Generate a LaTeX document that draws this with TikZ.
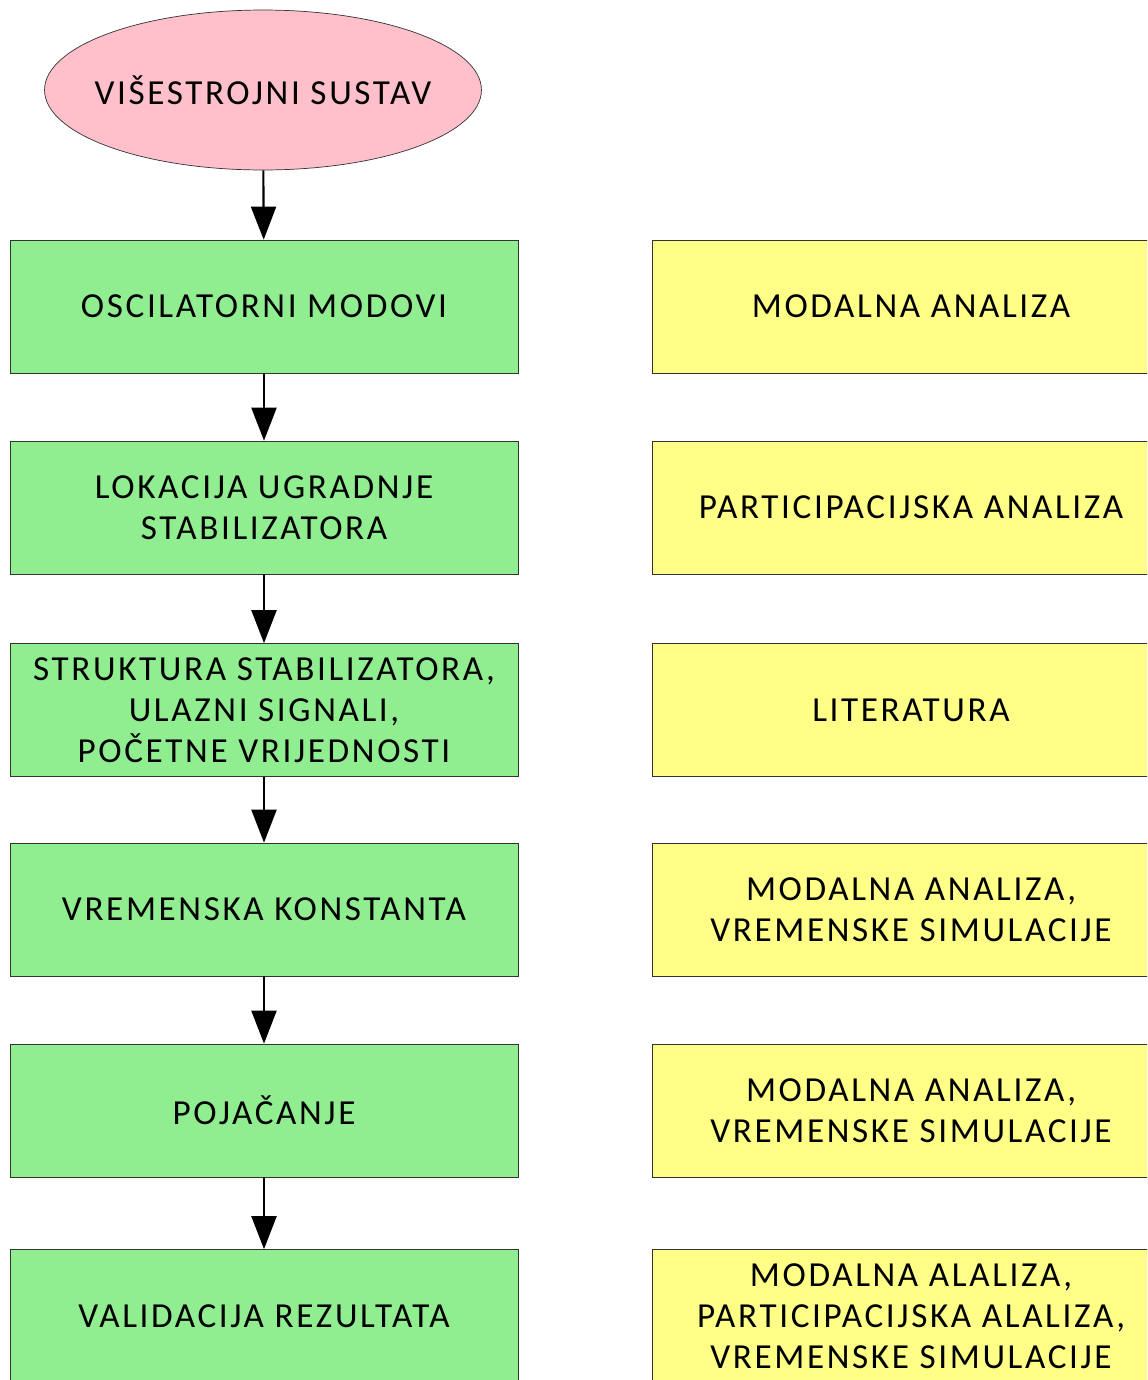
\documentclass[tikz,border=0pt]{standalone}
\usepackage{fontspec}
\setmainfont[LetterSpace=7.5]{Carlito}
\usetikzlibrary{shapes.geometric,arrows.meta}

\definecolor{stepgreen}{RGB}{144,238,144}
\definecolor{methodyellow}{RGB}{255,255,136}
\definecolor{startpink}{RGB}{255,192,203}

\tikzset{
  stepbox/.style={draw=black!80, fill=stepgreen, inner sep=0pt, minimum width=10.16cm, minimum height=2.66cm, align=center, font=\fontsize{20}{23.3}\selectfont},
  methodbox/.style={draw=black!80, fill=methodyellow, inner sep=0pt, minimum width=10.36cm, minimum height=2.66cm, align=center, font=\fontsize{20}{23.3}\selectfont},
  flow/.style={-{Triangle[length=0.66cm,width=0.5cm]}, line width=1.2pt}
}

\begin{document}
\begin{tikzpicture}[x=0.02cm, y=-0.02cm]
    \useasboundingbox (0,0) rectangle (1147,1380);
    \clip (0,0) rectangle (1147,1380);

    % Start of the procedure
    \node[ellipse, draw=black!80, fill=startpink, inner sep=0pt, minimum width=8.74cm, minimum height=3.2cm,
          label={[font=\fontsize{20}{23.3}\selectfont]center:VIŠESTROJNI SUSTAV}] (sustav) at (263,90) {};

    % Steps of the procedure on the left
    \foreach \i/\y/\txt in {1/306.5/{OSCILATORNI MODOVI},
                            2/507.5/{LOKACIJA UGRADNJE\\ STABILIZATORA},
                            3/710/{STRUKTURA STABILIZATORA,\\ ULAZNI SIGNALI,\\ POČETNE VRIJEDNOSTI},
                            4/909.5/{VREMENSKA KONSTANTA},
                            5/1110.5/{POJAČANJE},
                            6/1316/{VALIDACIJA REZULTATA}} {
      \node[stepbox] (s\i) at (264,\y) {\txt};
    }

    % Methods used for each step on the right
    \foreach \i/\y/\txt in {1/306.5/{MODALNA ANALIZA},
                            2/507.5/{PARTICIPACIJSKA ANALIZA},
                            3/710/{LITERATURA},
                            4/909.5/{MODALNA ANALIZA,\\ VREMENSKE SIMULACIJE},
                            5/1110.5/{MODALNA ANALIZA,\\ VREMENSKE SIMULACIJE},
                            6/1316/{MODALNA ALALIZA,\\ PARTICIPACIJSKA ALALIZA,\\ VREMENSKE SIMULACIJE}} {
      \node[methodbox] (m\i) at (911,\y) {\txt};
    }

    % Arrows between the steps
    \draw[flow] (sustav) -- (s1);
    \foreach \i in {1,...,5} {
      \pgfmathtruncatemacro{\j}{\i+1}
      \draw[flow] (s\i) -- (s\j);
    }

\end{tikzpicture}
\end{document}
